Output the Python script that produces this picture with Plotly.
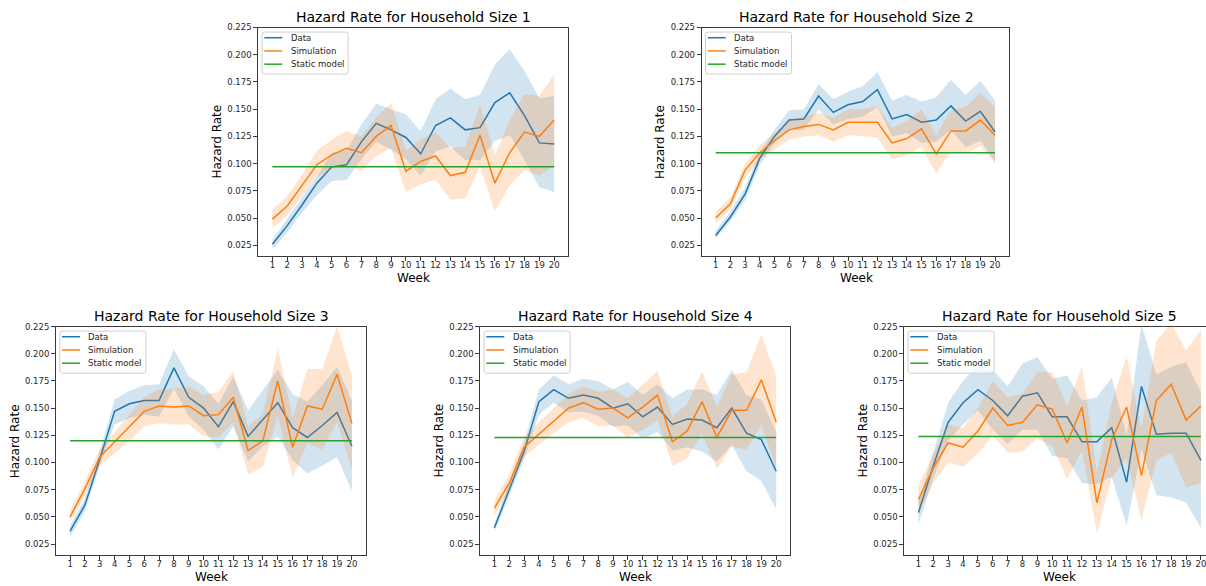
import plotly.graph_objects as go

# ---- shared axes ----
weeks = list(range(1, 21))
week_labels = [str(w) for w in weeks]
y_ticks = [0.025, 0.050, 0.075, 0.100, 0.125, 0.150, 0.175, 0.200, 0.225]
y_tick_labels = ["0.025", "0.050", "0.075", "0.100", "0.125", "0.150", "0.175", "0.200", "0.225"]
household_sizes = [1, 2, 3, 4, 5]
series_names = ["Data", "Simulation", "Static model"]

# ---- household size 1 ----
data_1 = [0.026, 0.043, 0.062, 0.082, 0.097, 0.099, 0.120, 0.137, 0.131, 0.124,
          0.109, 0.135, 0.142, 0.131, 0.133, 0.156, 0.165, 0.144, 0.119, 0.118]
data_1_hi = [0.030, 0.049, 0.068, 0.088, 0.110, 0.112, 0.136, 0.155, 0.150, 0.145,
             0.130, 0.159, 0.169, 0.159, 0.163, 0.191, 0.205, 0.185, 0.160, 0.162]
data_1_lo = [0.021, 0.037, 0.055, 0.071, 0.084, 0.085, 0.104, 0.120, 0.113, 0.104,
             0.089, 0.111, 0.116, 0.103, 0.103, 0.121, 0.126, 0.103, 0.078, 0.074]
sim_1 = [0.049, 0.061, 0.080, 0.099, 0.108, 0.114, 0.110, 0.125, 0.135, 0.093,
         0.102, 0.107, 0.089, 0.092, 0.126, 0.082, 0.110, 0.129, 0.125, 0.140]
sim_1_hi = [0.058, 0.070, 0.090, 0.112, 0.122, 0.130, 0.125, 0.142, 0.156, 0.112,
            0.122, 0.129, 0.114, 0.116, 0.154, 0.108, 0.140, 0.164, 0.162, 0.182]
sim_1_lo = [0.041, 0.052, 0.070, 0.088, 0.095, 0.099, 0.093, 0.107, 0.114, 0.074,
            0.081, 0.085, 0.067, 0.068, 0.097, 0.056, 0.080, 0.094, 0.089, 0.098]
static_1 = 0.097

# ---- household size 2 ----
data_2 = [0.034, 0.051, 0.072, 0.105, 0.125, 0.140, 0.141, 0.162, 0.147, 0.154,
          0.157, 0.168, 0.141, 0.145, 0.138, 0.140, 0.153, 0.139, 0.148, 0.129]
data_2_hi = [0.038, 0.056, 0.078, 0.110, 0.131, 0.149, 0.150, 0.173, 0.159, 0.166,
             0.171, 0.184, 0.158, 0.163, 0.157, 0.161, 0.177, 0.163, 0.176, 0.158]
data_2_lo = [0.031, 0.047, 0.066, 0.099, 0.119, 0.131, 0.131, 0.150, 0.136, 0.141,
             0.143, 0.152, 0.125, 0.128, 0.119, 0.120, 0.131, 0.115, 0.121, 0.102]
sim_2 = [0.050, 0.063, 0.094, 0.110, 0.121, 0.131, 0.134, 0.136, 0.131, 0.138,
         0.138, 0.138, 0.119, 0.123, 0.132, 0.109, 0.130, 0.130, 0.140, 0.126]
sim_2_hi = [0.055, 0.069, 0.100, 0.117, 0.128, 0.140, 0.143, 0.147, 0.142, 0.150,
            0.150, 0.153, 0.133, 0.139, 0.150, 0.126, 0.149, 0.152, 0.165, 0.152]
sim_2_lo = [0.045, 0.058, 0.087, 0.103, 0.113, 0.122, 0.125, 0.126, 0.120, 0.126,
            0.125, 0.124, 0.104, 0.108, 0.115, 0.091, 0.111, 0.109, 0.116, 0.100]
static_2 = 0.110

# ---- household size 3 ----
data_3 = [0.037, 0.061, 0.103, 0.147, 0.154, 0.157, 0.157, 0.187, 0.160, 0.150,
          0.133, 0.156, 0.124, 0.140, 0.155, 0.132, 0.123, 0.134, 0.146, 0.115]
data_3_hi = [0.042, 0.067, 0.110, 0.158, 0.166, 0.171, 0.172, 0.204, 0.179, 0.170,
             0.154, 0.179, 0.148, 0.167, 0.185, 0.163, 0.156, 0.171, 0.188, 0.157]
data_3_lo = [0.032, 0.055, 0.097, 0.135, 0.141, 0.144, 0.142, 0.168, 0.142, 0.130,
             0.112, 0.133, 0.101, 0.115, 0.124, 0.102, 0.090, 0.097, 0.105, 0.074]
sim_3 = [0.050, 0.076, 0.105, 0.119, 0.133, 0.147, 0.152, 0.151, 0.152, 0.143,
         0.144, 0.160, 0.111, 0.120, 0.175, 0.114, 0.152, 0.149, 0.181, 0.136]
sim_3_hi = [0.056, 0.083, 0.112, 0.128, 0.143, 0.160, 0.167, 0.168, 0.170, 0.162,
            0.165, 0.184, 0.133, 0.145, 0.205, 0.141, 0.186, 0.186, 0.225, 0.180]
sim_3_lo = [0.045, 0.070, 0.097, 0.108, 0.120, 0.133, 0.136, 0.135, 0.135, 0.124,
            0.123, 0.137, 0.089, 0.096, 0.143, 0.086, 0.118, 0.112, 0.137, 0.094]
static_3 = 0.120

# ---- household size 4 ----
data_4 = [0.040, 0.075, 0.110, 0.156, 0.167, 0.159, 0.162, 0.159, 0.150, 0.154,
          0.142, 0.151, 0.135, 0.140, 0.139, 0.132, 0.150, 0.127, 0.121, 0.092]
data_4_hi = [0.044, 0.081, 0.118, 0.167, 0.180, 0.172, 0.177, 0.175, 0.167, 0.174,
             0.162, 0.172, 0.159, 0.167, 0.167, 0.162, 0.185, 0.162, 0.158, 0.128]
data_4_lo = [0.036, 0.069, 0.103, 0.144, 0.155, 0.146, 0.147, 0.143, 0.133, 0.134,
             0.122, 0.128, 0.111, 0.114, 0.110, 0.101, 0.116, 0.092, 0.083, 0.057]
sim_4 = [0.058, 0.081, 0.114, 0.126, 0.138, 0.150, 0.155, 0.149, 0.150, 0.141,
         0.151, 0.162, 0.119, 0.129, 0.156, 0.123, 0.148, 0.148, 0.176, 0.137]
sim_4_hi = [0.065, 0.089, 0.123, 0.137, 0.150, 0.163, 0.170, 0.165, 0.167, 0.159,
            0.172, 0.184, 0.142, 0.154, 0.184, 0.151, 0.181, 0.183, 0.218, 0.179]
sim_4_lo = [0.051, 0.074, 0.105, 0.116, 0.127, 0.137, 0.141, 0.133, 0.134, 0.123,
            0.130, 0.139, 0.097, 0.104, 0.127, 0.094, 0.115, 0.112, 0.134, 0.095]
static_4 = 0.123

# ---- household size 5 ----
data_5 = [0.054, 0.097, 0.137, 0.155, 0.167, 0.157, 0.143, 0.161, 0.164, 0.142,
          0.142, 0.119, 0.119, 0.132, 0.082, 0.170, 0.126, 0.127, 0.127, 0.102]
data_5_hi = [0.064, 0.110, 0.155, 0.175, 0.190, 0.185, 0.170, 0.191, 0.197, 0.177,
             0.180, 0.157, 0.160, 0.178, 0.125, 0.227, 0.181, 0.188, 0.192, 0.165]
data_5_lo = [0.043, 0.085, 0.120, 0.135, 0.148, 0.130, 0.117, 0.130, 0.130, 0.106,
             0.104, 0.081, 0.080, 0.087, 0.042, 0.112, 0.070, 0.068, 0.063, 0.040]
sim_5 = [0.066, 0.095, 0.118, 0.114, 0.129, 0.150, 0.134, 0.137, 0.153, 0.149,
         0.118, 0.151, 0.063, 0.121, 0.151, 0.088, 0.157, 0.172, 0.139, 0.152]
sim_5_hi = [0.079, 0.108, 0.135, 0.132, 0.150, 0.175, 0.160, 0.163, 0.184, 0.183,
            0.152, 0.189, 0.091, 0.155, 0.198, 0.130, 0.212, 0.228, 0.203, 0.222]
sim_5_lo = [0.053, 0.081, 0.100, 0.096, 0.108, 0.125, 0.109, 0.110, 0.122, 0.115,
            0.085, 0.111, 0.035, 0.086, 0.104, 0.047, 0.102, 0.109, 0.077, 0.081]
static_5 = 0.124

panels_data = [
    (data_1, data_1_hi, data_1_lo, sim_1, sim_1_hi, sim_1_lo, static_1),
    (data_2, data_2_hi, data_2_lo, sim_2, sim_2_hi, sim_2_lo, static_2),
    (data_3, data_3_hi, data_3_lo, sim_3, sim_3_hi, sim_3_lo, static_3),
    (data_4, data_4_hi, data_4_lo, sim_4, sim_4_hi, sim_4_lo, static_4),
    (data_5, data_5_hi, data_5_lo, sim_5, sim_5_hi, sim_5_lo, static_5),
]

# ---- page geometry (pixels) ----
W, H = 1206, 586
# left, right, top, bottom of each axes frame; the last panel runs off the page edge
frames = [
    (258.3, 568.3, 22.7, 253.3),
    (701.7, 1009.0, 22.7, 253.3),
    (56.0, 366.0, 324.3, 554.7),
    (480.3, 790.3, 324.3, 554.7),
    (904.3, 1206.0, 324.3, 554.7),
]
x_ranges = [[0.05, 20.95]] * 4 + [[0.05, 20.34]]
full_width = 310.0

BLUE = "#1f77b4"
ORANGE = "#ff7f0e"
GREEN = "#2ca02c"
series_colors = [BLUE, ORANGE, GREEN]
BLUE_FILL = "rgba(31,119,180,0.2)"
ORANGE_FILL = "rgba(255,127,14,0.2)"
FONT = "DejaVu Sans"
TEXT = "#262626"
SPINE = "#3a3a3a"


def px(x):
    return x / W


def py(y):
    return 1 - y / H


def rounded_box(x0, y0, x1, y1, r=2.5):
    """SVG path (paper coords) of a rectangle with softly rounded corners."""
    pts = [
        ("M", [(x0 + r, y0)]), ("L", [(x1 - r, y0)]), ("Q", [(x1, y0), (x1, y0 + r)]),
        ("L", [(x1, y1 - r)]), ("Q", [(x1, y1), (x1 - r, y1)]),
        ("L", [(x0 + r, y1)]), ("Q", [(x0, y1), (x0, y1 - r)]),
        ("L", [(x0, y0 + r)]), ("Q", [(x0, y0), (x0 + r, y0)]),
    ]
    out = []
    for cmd, coords in pts:
        out.append(cmd + " ".join(f"{px(a):.6f},{py(b):.6f}" for a, b in coords))
    return " ".join(out) + " Z"


fig = go.Figure()
annotations = []
shapes = []

for i, size in enumerate(household_sizes):
    s = "" if i == 0 else str(i + 1)
    data, data_hi, data_lo, sim, sim_hi, sim_lo, static = panels_data[i]
    axes = dict(xaxis="x" + s, yaxis="y" + s, showlegend=False)

    fig.add_trace(go.Scatter(x=weeks, y=data, mode="lines", name=series_names[0],
                             line=dict(color=BLUE, width=1.5), **axes))
    fig.add_trace(go.Scatter(x=weeks + weeks[::-1], y=data_hi + data_lo[::-1],
                             fill="toself", fillcolor=BLUE_FILL, mode="lines",
                             line=dict(width=0), hoverinfo="skip", **axes))
    fig.add_trace(go.Scatter(x=weeks, y=sim, mode="lines", name=series_names[1],
                             line=dict(color=ORANGE, width=1.5), **axes))
    fig.add_trace(go.Scatter(x=weeks + weeks[::-1], y=sim_hi + sim_lo[::-1],
                             fill="toself", fillcolor=ORANGE_FILL, mode="lines",
                             line=dict(width=0), hoverinfo="skip", **axes))
    fig.add_trace(go.Scatter(x=weeks, y=[static] * len(weeks), mode="lines",
                             name=series_names[2],
                             line=dict(color=GREEN, width=1.5), **axes))

    left, right, top, bottom = frames[i]
    common = dict(showline=True, linecolor=SPINE, linewidth=1, showgrid=False,
                  zeroline=False, ticks="outside", ticklen=4, tickwidth=1,
                  tickcolor=SPINE, ticklabeloverflow="allow",
                  tickfont=dict(family=FONT, size=8.5, color=TEXT))
    fig.update_layout(**{
        "xaxis" + s: dict(domain=[px(left), px(right)], range=x_ranges[i],
                          tickmode="array", tickvals=weeks, ticktext=week_labels,
                          anchor="y" + s, mirror=True, ticklabelstandoff=-3, **common),
        "yaxis" + s: dict(domain=[py(bottom), py(top)], range=[0.015, 0.225],
                          tickmode="array", tickvals=y_ticks, ticktext=y_tick_labels,
                          anchor="x" + s, mirror=(i != 4), **common),
    })

    # legend box in the upper-left corner of each panel
    bx0, by0 = left + 3.8, top + 4.6
    bx1, by1 = bx0 + 86.0, by0 + 42.4
    shapes.append(dict(type="path", path=rounded_box(bx0, by0, bx1, by1),
                       xref="paper", yref="paper", layer="above",
                       line=dict(color="#d0d0d0", width=1),
                       fillcolor="rgba(255,255,255,0.8)"))
    for k, (name, color) in enumerate(zip(series_names, series_colors)):
        ry = by0 + 5.7 + 13.35 * k
        shapes.append(dict(type="line", xref="paper", yref="paper", layer="above",
                           x0=px(left + 6.0), x1=px(left + 24.0), y0=py(ry), y1=py(ry),
                           line=dict(color=color, width=1.5)))
        annotations.append(dict(text=name, x=px(left + 31.2), y=py(ry),
                                xref="paper", yref="paper", xanchor="left",
                                yanchor="middle", showarrow=False, borderpad=0,
                                font=dict(family=FONT, size=8.5, color=TEXT)))

    cx = left + full_width / 2
    annotations.append(dict(text=f"Hazard Rate for Household Size {size}",
                            x=px(cx), y=py(top - 11.0), xref="paper", yref="paper",
                            xanchor="center", yanchor="middle", showarrow=False,
                            font=dict(family=FONT, size=14, color="black")))
    annotations.append(dict(text="Week", x=px(cx), y=py(bottom + 22.5),
                            xref="paper", yref="paper", xanchor="center",
                            yanchor="middle", showarrow=False,
                            font=dict(family=FONT, size=12, color="black")))
    annotations.append(dict(text="Hazard Rate", x=px(left - 41.6),
                            y=py((top + bottom) / 2), xref="paper", yref="paper",
                            xanchor="center", yanchor="middle", textangle=-90,
                            showarrow=False,
                            font=dict(family=FONT, size=12, color="black")))

fig.update_layout(width=W, height=H, margin=dict(l=0, r=0, t=0, b=0, pad=0),
                  plot_bgcolor="white", paper_bgcolor="white", showlegend=False,
                  annotations=annotations, shapes=shapes, font=dict(family=FONT))

fig.write_html("out.html")
